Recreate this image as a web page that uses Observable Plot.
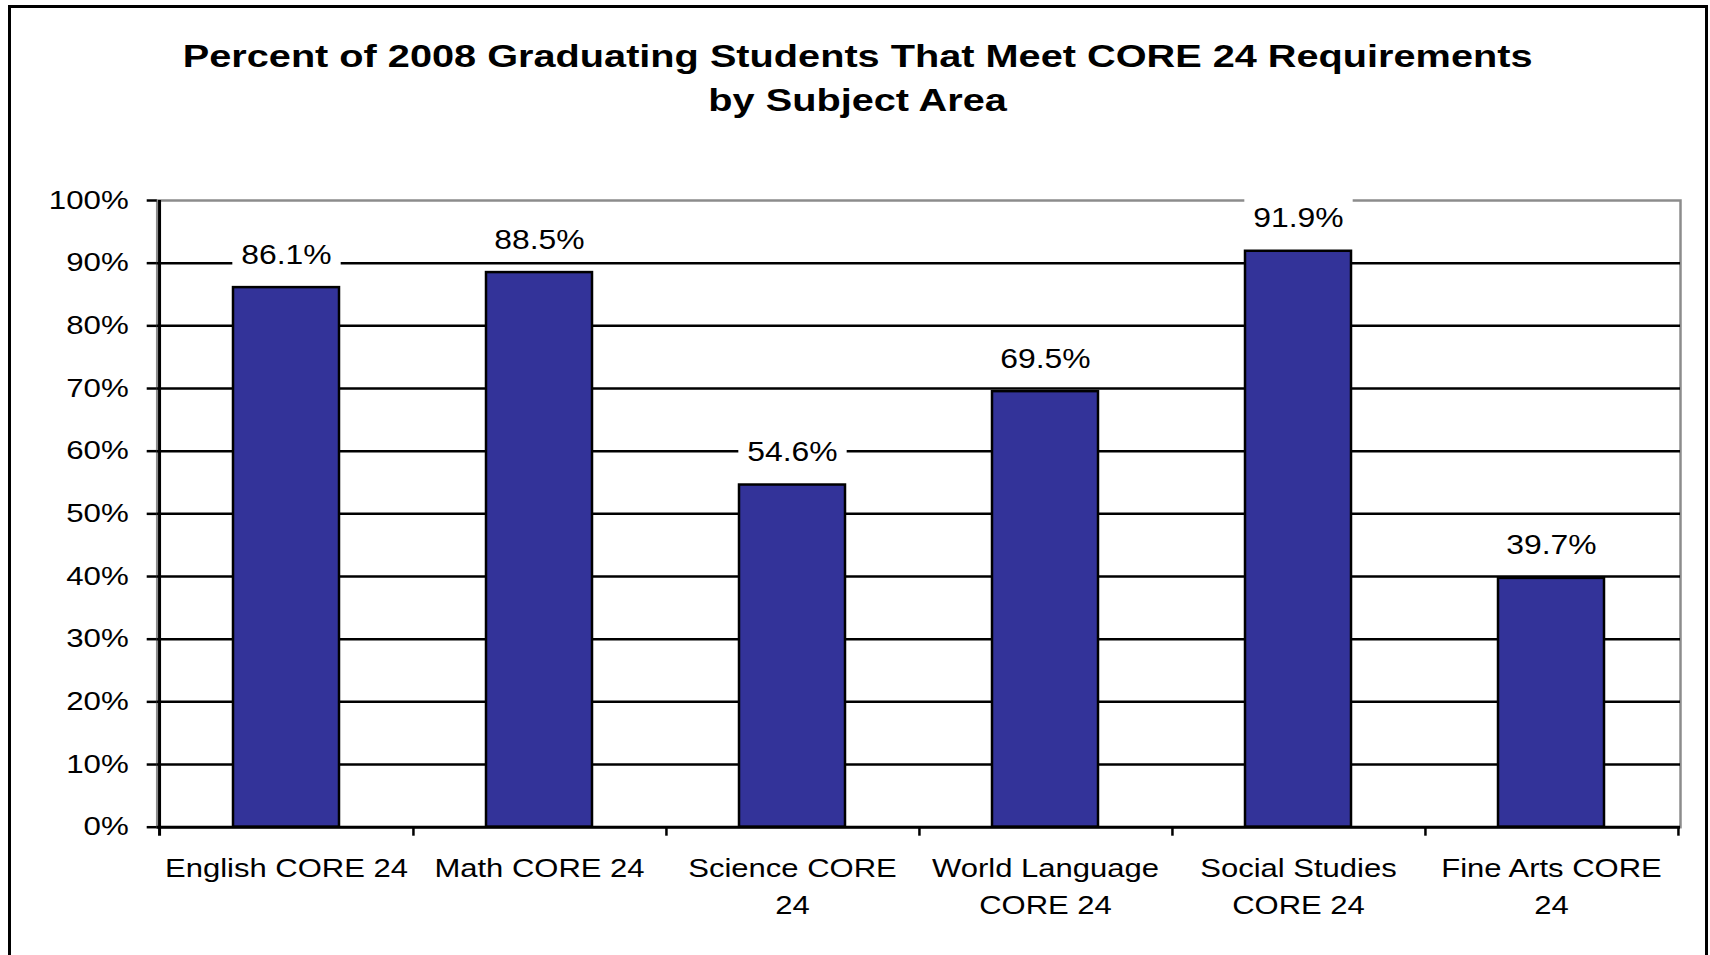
<!DOCTYPE html>
<html><head><meta charset="utf-8">
<script src="https://cdn.jsdelivr.net/npm/d3@7"></script>
<script src="https://cdn.jsdelivr.net/npm/@observablehq/plot@0.6"></script>
<style>
html,body{margin:0;padding:0;background:#fff;overflow:hidden;width:1710px;height:955px}
body{position:relative;font-family:"Liberation Sans",Arial,sans-serif}
#box{position:absolute;left:8px;top:5px;width:1700px;height:1000px;border:3px solid #000;box-sizing:border-box;z-index:5;pointer-events:none}
#title{position:absolute;left:8px;width:1700px;top:33.6px;text-align:center;font-weight:bold;font-size:31.5px;line-height:44px;color:#000}
#title span{display:inline-block;transform:scaleX(1.26);transform-origin:50% 50%}
#chart{position:absolute;left:0;top:130px}
</style></head>
<body>
<div id="box"></div>
<div id="title"><span>Percent of 2008 Graduating Students That Meet CORE 24 Requirements<br>by Subject Area</span></div>
<div id="chart"></div>
<script>
const categories = ["English CORE 24", "Math CORE 24", "Science CORE 24", "World Language CORE 24", "Social Studies CORE 24", "Fine Arts CORE 24"];
const categoryLabels = ["English CORE 24", "Math CORE 24", "Science CORE\n24", "World Language\nCORE 24", "Social Studies\nCORE 24", "Fine Arts CORE\n24"];
const percentMeeting = [86.1, 88.5, 54.6, 69.5, 91.9, 39.7];
const yTicks = [0, 10, 20, 30, 40, 50, 60, 70, 80, 90, 100];
const gridValues = [10, 20, 30, 40, 50, 60, 70, 80, 90];

const data = categories.map((c, i) => ({category: c, label: categoryLabels[i], value: percentMeeting[i]}));

const W = 1710, H = 825, mL = 156.7, mR = 30, mT = 70, mB = 128.3;
const innerH = H - mT - mB;
const step = (W - mL - mR) / categories.length;

const svg = Plot.plot({
  width: W, height: H,
  marginLeft: mL, marginRight: mR, marginTop: mT, marginBottom: mB,
  style: {fontFamily: "'Liberation Sans', Arial, sans-serif", color: "#000", background: "transparent", overflow: "visible"},
  x: {domain: categories, paddingInner: 0.583, paddingOuter: 0.2915, axis: null},
  y: {domain: [0, 100], axis: null},
  marks: [
    Plot.frame({stroke: "#8c8c8c", strokeWidth: 2.5}),
    Plot.ruleY(gridValues, {stroke: "#000", strokeWidth: 2.5}),
    Plot.barY(data, {x: "category", y: "value", fill: "#333399", stroke: "#000", strokeWidth: 2.5}),
    Plot.ruleY([0], {stroke: "#000", strokeWidth: 3}),
    Plot.ruleX([categories[0]], {dx: -step / 2, stroke: "#000", strokeWidth: 3, insetBottom: -9}),
    Plot.ruleX(categories, {dx: step / 2, stroke: "#000", strokeWidth: 2.5, insetTop: innerH, insetBottom: -9}),
    Plot.axisY({ticks: yTicks, tickFormat: d => `${d}%`, label: null, tickSize: 10, tickPadding: 18.5, fontSize: 25, stroke: "#000", strokeWidth: 2.5, strokeOpacity: 1}),
    Plot.text(data, {x: "category", text: "label", frameAnchor: "bottom", lineAnchor: "top", dy: 24, fontSize: 26.5, lineHeight: 1.396, fill: "#000"}),
    Plot.text(data, {x: "category", y: "value", text: d => `${d.value.toFixed(1)}%`, lineAnchor: "bottom", dy: -24, fontSize: 27, fill: "#000"})
  ]
});
document.getElementById("chart").appendChild(svg);

const S = {ytick: 1.25, xlab: 1.17, value: 1.18};
function stretch(t, s) {
  const tr = t.getAttribute("transform") || "";
  const x = +(t.getAttribute("x") || 0);
  if (x) t.setAttribute("x", x / s);
  t.setAttribute("transform", (tr + ` scale(${s},1)`).trim());
}
const textGroups = svg.querySelectorAll('g[aria-label="text"]');
const xlabG = textGroups[0], valG = textGroups[1];
valG.querySelectorAll("text").forEach(t => {
  const b = t.getBBox();
  const r = document.createElementNS("http://www.w3.org/2000/svg", "rect");
  const s = S.value;
  r.setAttribute("x", b.x - 9 / s);
  r.setAttribute("y", b.y - 5);
  r.setAttribute("width", b.width + 18 / s);
  r.setAttribute("height", b.height + 10);
  r.setAttribute("fill", "#fff");
  r.setAttribute("stroke", "none");
  t.parentNode.insertBefore(r, t);
  stretch(t, s);
  r.setAttribute("transform", t.getAttribute("transform"));
});
xlabG.querySelectorAll("text").forEach(t => stretch(t, S.xlab));
svg.querySelectorAll('g[aria-label="y-axis tick label"] text').forEach(t => stretch(t, S.ytick));
</script>
</body></html>
